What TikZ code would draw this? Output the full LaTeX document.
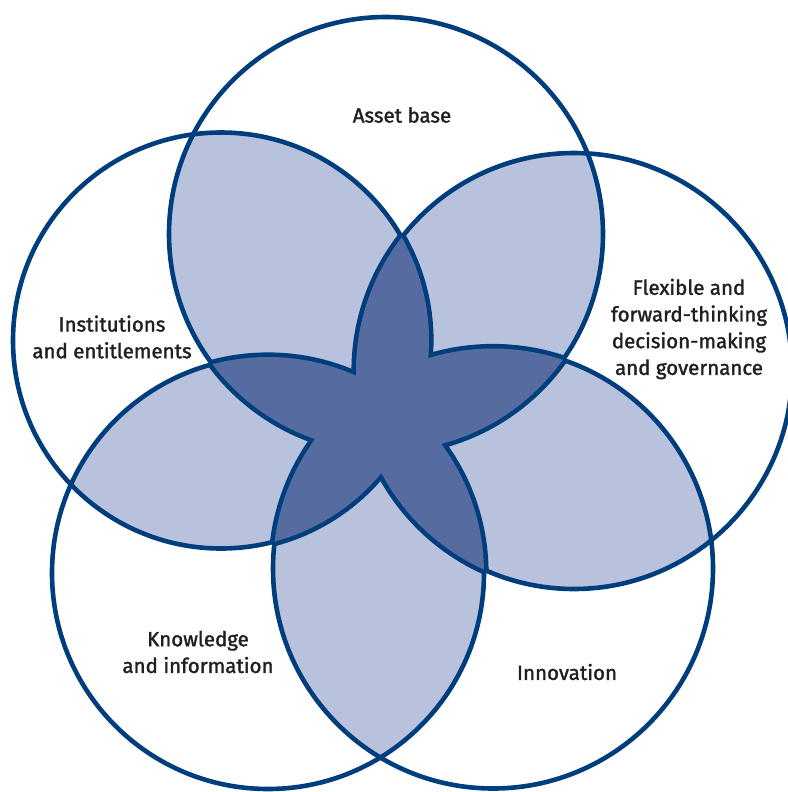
\documentclass[tikz,border=0pt]{standalone}
\usepackage{fontspec}
\setmainfont{Fira Sans}[FakeBold=1.6]
\definecolor{ringblue}{RGB}{0,61,125}
\definecolor{lightfill}{RGB}{185,194,220}
\definecolor{darkfill}{RGB}{86,108,161}
\definecolor{labeltext}{RGB}{35,31,32}
\begin{document}
\begin{tikzpicture}[x=1pt,y=-1pt,
  ring/.style={draw=ringblue,line width=4.6pt},
  starrim/.style={draw=ringblue,line width=9.2pt},
  lbl/.style={text=labeltext,align=center,inner sep=0pt,font=\fontsize{20.5}{26.7}\selectfont}]
\useasboundingbox (0,0) rectangle (787,792);
\def\cA{(386,234) circle [radius=217pt]}
\def\cB{(221,340.5) circle [radius=208pt]}
\def\cC{(574,371) circle [radius=218pt]}
\def\cD{(268,573) circle [radius=216pt]}
\def\cE{(493,568.5) circle [radius=220pt]}
% regions shared by two circles
\foreach \p/\q in {\cA/\cB,\cA/\cC,\cA/\cD,\cA/\cE,\cB/\cC,\cB/\cD,\cB/\cE,\cC/\cD,\cC/\cE,\cD/\cE}{
  \begin{scope}\clip \p; \fill[lightfill] \q; \end{scope}
}
% circle outlines
\draw[ring] \cA; \draw[ring] \cB; \draw[ring] \cC; \draw[ring] \cD; \draw[ring] \cE;
% rim of the star (regions shared by three or more circles)
\foreach \p/\q/\r in {\cA/\cB/\cC,\cA/\cB/\cD,\cA/\cB/\cE,\cA/\cC/\cD,\cA/\cC/\cE,\cA/\cD/\cE,\cB/\cC/\cD,\cB/\cC/\cE,\cB/\cD/\cE,\cC/\cD/\cE}{
  \begin{scope}\clip \q; \clip \r; \draw[starrim] \p; \end{scope}
  \begin{scope}\clip \p; \clip \r; \draw[starrim] \q; \end{scope}
  \begin{scope}\clip \p; \clip \q; \draw[starrim] \r; \end{scope}
}
% the star itself
\foreach \p/\q/\r in {\cA/\cB/\cC,\cA/\cB/\cD,\cA/\cB/\cE,\cA/\cC/\cD,\cA/\cC/\cE,\cA/\cD/\cE,\cB/\cC/\cD,\cB/\cC/\cE,\cB/\cD/\cE,\cC/\cD/\cE}{
  \begin{scope}\clip \p; \clip \q; \fill[darkfill] \r; \end{scope}
}
\node[lbl] (asset) at (402,115) {Asset base};
\node[lbl] (inst) at (112,337) {Institutions\\and entitlements};
\node[lbl] (flex) at (689,329) {Flexible and\\forward-thinking\\decision-making\\and governance};
\node[lbl] (know) at (198,652) {Knowledge\\and information};
\node[lbl] (innov) at (567,672) {Innovation};
\end{tikzpicture}
\end{document}
